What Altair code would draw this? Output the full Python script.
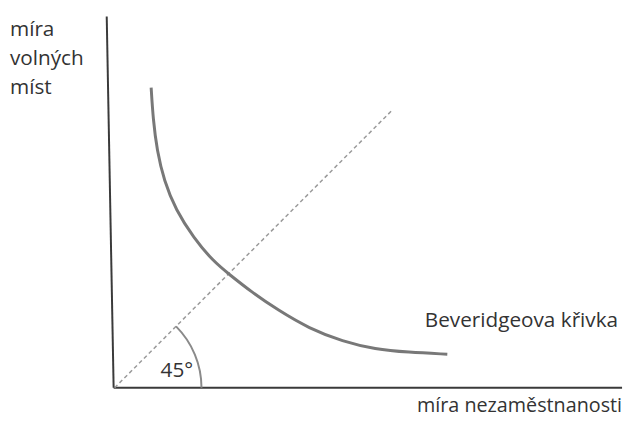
import math
import altair as alt
import pandas as pd

# Beveridge curve points (plot units, origin at the axes' corner)
curve_x = [37, 39, 43, 50, 62, 80, 100, 116, 140, 165, 197, 231, 264, 297, 337]
curve_y = [304, 272, 240, 210, 180, 152, 128, 115, 96, 79, 60, 47, 39, 36, 34]

# 45° guide line
diag_x = [0, 282]
diag_y = [0, 282]

# axes
yaxis_x = [-8, -1]
yaxis_y = [376, 0]
xaxis_x = [-1, 514]
xaxis_y = [0, 0]

y_label_lines = ["míra", "volných", "míst"]
x_label = "míra nezaměstnanosti"
curve_label = "Beveridgeova křivka"
angle_label = "45°"

W, H = 510, 376
FONT = "Open Sans"
TXT = "#333333"

xs = alt.Scale(domain=[0, W], nice=False, zero=False)
ys = alt.Scale(domain=[0, H], nice=False, zero=False)


def line_df(xv, yv):
    return pd.DataFrame({"x": xv, "y": yv, "o": list(range(len(xv)))})


def line_layer(df, color, width, dash=None, interp="linear"):
    kw = dict(color=color, strokeWidth=width, interpolate=interp, clip=False)
    if dash:
        kw["strokeDash"] = dash
    return alt.Chart(df).mark_line(**kw).encode(
        x=alt.X("x:Q", scale=xs, axis=None),
        y=alt.Y("y:Q", scale=ys, axis=None),
        order="o:Q",
    )


yaxis = line_layer(line_df(yaxis_x, yaxis_y), "#3a3a3a", 2)
xaxis = line_layer(line_df(xaxis_x, xaxis_y), "#3a3a3a", 2)
diag = line_layer(line_df(diag_x, diag_y), "#9a9a9a", 1.5, dash=[4, 3])
curve = line_layer(line_df(curve_x, curve_y), "#787878", 3, interp="basis")

arc = alt.Chart(pd.DataFrame({"x": [0], "y": [0]})).mark_arc(
    radius=89, radius2=87, theta=math.pi / 4, theta2=math.pi / 2,
    color="#8a8a8a",
).encode(
    x=alt.X("x:Q", scale=xs, axis=None),
    y=alt.Y("y:Q", scale=ys, axis=None),
)


def text_layer(t, px, py, align="left", size=21):
    return alt.Chart(pd.DataFrame({"t": [t]})).mark_text(
        font=FONT, fontSize=size, color=TXT, align=align, baseline="alphabetic"
    ).encode(text="t:N", x=alt.value(px), y=alt.value(py))


texts = [
    text_layer(y_label_lines[0], -106, 20),
    text_layer(y_label_lines[1], -106, 49),
    text_layer(y_label_lines[2], -106, 78),
    text_layer(curve_label, 510, 314, align="right"),
    text_layer(x_label, 514, 401, align="right", size=20),
    text_layer(angle_label, 63, 365, align="center"),
]

chart = alt.layer(yaxis, xaxis, diag, arc, curve, *texts).properties(
    width=W, height=H,
    autosize=alt.AutoSizeParams(type="none"),
    padding={"left": 108, "top": 6, "right": 8, "bottom": 32},
    background="white",
).configure_view(stroke=None)

chart.save("out.html", embed_options={"renderer": "svg", "actions": False})
